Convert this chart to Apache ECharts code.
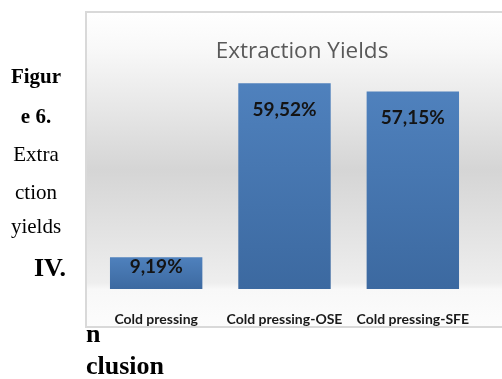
<!DOCTYPE html>
<html>
<head>
<meta charset="utf-8">
<script src="https://cdn.jsdelivr.net/npm/echarts@6/dist/echarts.min.js"></script>
<style>
html,body{margin:0;padding:0;background:#fff;}
#chart{width:502px;height:379px;}
</style>
</head>
<body>
<div id="chart"></div>
<script>
const categories = ['Cold pressing', 'Cold pressing-OSE', 'Cold pressing-SFE'];
const yields = [9.19, 59.52, 57.15];
const chartTitle = 'Extraction Yields';
const sideLines = ['Figur', 'e 6.', 'Extra', 'ction', 'yields'];
const headingLines = ['IV.', 'n', 'clusion'];

const chart = echarts.init(document.getElementById('chart'), null, {renderer: 'canvas'});

const serif = '"Liberation Serif", "DejaVu Serif", serif';
const sideStyle = [
  {w: 'bold', y: 78}, {w: 'bold', y: 118}, {w: 'normal', y: 155}, {w: 'normal', y: 193}, {w: 'normal', y: 227}
];

const graphics = [
  {
    type: 'rect', z: -10, silent: true,
    shape: {x: 86, y: 12, width: 500, height: 315},
    style: {
      fill: new echarts.graphic.LinearGradient(0, 0, 0, 1, [
        {offset: 0, color: '#ffffff'},
        {offset: 0.12, color: '#f8f8f8'},
        {offset: 0.5, color: '#d5d5d5'},
        {offset: 0.86, color: '#eeeeee'},
        {offset: 0.88, color: '#f8f8f8'},
        {offset: 1, color: '#fcfcfc'}
      ]),
      stroke: null
    }
  },
  {
    type: 'rect', z: 100, silent: true,
    shape: {x: 84, y: 327, width: 420, height: 60},
    style: {fill: '#ffffff'}
  },
  {
    type: 'rect', z: 101, silent: true,
    shape: {x: 86, y: 12, width: 500, height: 315},
    style: {fill: null, stroke: '#d9d9d9', lineWidth: 2}
  }
];
sideLines.forEach((t, i) => {
  graphics.push({
    type: 'text', z: 102, silent: true,
    style: {
      text: t, x: 36, y: sideStyle[i].y, align: 'center', verticalAlign: 'middle',
      font: sideStyle[i].w + ' 21px ' + serif, fill: '#000'
    }
  });
});
const headPos = [
  {x: 66, y: 269, align: 'right'},
  {x: 86, y: 335, align: 'left'},
  {x: 86, y: 367, align: 'left'}
];
headingLines.forEach((t, i) => {
  graphics.push({
    type: 'text', z: 102, silent: true,
    style: {
      text: t, x: headPos[i].x, y: headPos[i].y, align: headPos[i].align, verticalAlign: 'middle',
      font: 'bold 26px ' + serif, fill: '#000'
    }
  });
});

const option = {
  animation: false,
  title: {
    text: chartTitle,
    left: 297, top: 35,
    textAlign: 'center',
    textStyle: {fontFamily: '"Open Sans"', fontWeight: 'normal', fontSize: 22.5, color: '#595959'}
  },
  grid: {left: 92, right: 25, top: 47, bottom: 90, containLabel: false},
  xAxis: {
    type: 'category',
    data: categories,
    axisLine: {show: false},
    axisTick: {show: false},
    axisLabel: {
      margin: 23, fontFamily: 'Lato', fontWeight: 'bold', fontSize: 14, color: '#1a1a1a', interval: 0
    }
  },
  yAxis: {
    type: 'value', min: 0, max: 70, show: false,
    splitLine: {show: false}
  },
  series: [{
    type: 'bar',
    data: yields.map(v => ({
      value: v,
      label: {distance: v > 20 ? 17 : 0}
    })),
    barWidth: '72%',
    itemStyle: {
      color: new echarts.graphic.LinearGradient(0, 0, 0, 1, [
        {offset: 0, color: '#4f81bd'},
        {offset: 1, color: '#3c69a0'}
      ])
    },
    label: {
      show: true,
      position: 'insideTop',
      formatter: p => p.value.toFixed(2).replace('.', ',') + '%',
      fontFamily: 'Lato', fontWeight: 'bold', fontSize: 19, color: '#141414'
    }
  }],
  graphic: graphics
};
chart.setOption(option);
</script>
</body>
</html>
